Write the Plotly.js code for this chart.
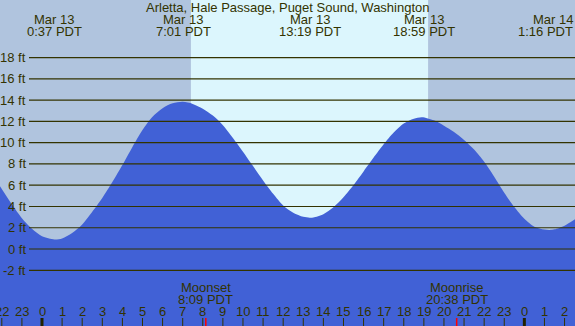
<!DOCTYPE html>
<html><head><meta charset="utf-8">
<script src="https://cdn.plot.ly/plotly-3.0.1.min.js"></script>
<style>html,body{margin:0;padding:0;background:#b0c4de;}#chart{width:575px;height:326px;}</style>
</head><body><div id="chart"></div>
<script>
// ---- data ----
const titleText = "Arletta, Hale Passage, Puget Sound, Washington";
const tideHours = [-2.09, -1.5, -1, -0.5, 0, 0.62, 1, 1.5, 2, 2.5, 3, 3.5, 4, 4.5, 5, 5.5, 6, 6.5, 7.0,
  7.5, 8, 8.5, 9, 9.5, 10, 10.5, 11, 11.5, 12, 12.5, 13, 13.32,
  13.5, 14, 14.5, 15, 15.5, 16, 16.5, 17, 17.5, 18, 18.5, 18.9,
  19.5, 20, 20.5, 21, 21.5, 22, 22.5, 23, 23.5, 24, 24.5, 25, 25.27, 25.5, 26, 26.52];
const tideFeet = [5.9, 4.2, 2.9, 1.9, 1.2, 0.9, 1.0, 1.5, 2.3, 3.5, 4.8, 6.3, 7.9, 9.6, 11.2, 12.45, 13.25, 13.7, 13.84,
  13.65, 13.2, 12.55, 11.65, 10.45, 9.15, 7.8, 6.45, 5.2, 4.1, 3.42, 3.03, 2.95,
  2.97, 3.28, 3.93, 4.86, 6.02, 7.3, 8.6, 9.85, 10.95, 11.8, 12.25, 12.4,
  12.1, 11.6, 11.0, 10.25, 9.35, 8.2, 6.8, 5.3, 3.95, 2.85, 2.1, 1.83, 1.8, 1.85, 2.2, 2.8];
const eventHours = [0.617, 7.017, 13.317, 18.983, 25.267];
const eventDates = ["Mar 13", "Mar 13", "Mar 13", "Mar 13", "Mar 14"];
const eventTimes = ["0:37 PDT", "7:01 PDT", "13:19 PDT", "18:59 PDT", "1:16 PDT"];
const moonHours = [8.15, 20.633];
const moonNames = ["Moonset", "Moonrise"];
const moonTimes = ["8:09 PDT", "20:38 PDT"];
const sunriseHour = 7.41;
const sunsetHour = 19.22;
const gridFeet = [18, 16, 14, 12, 10, 8, 6, 4, 2, 0, -2];
const gridLabels = ["18 ft", "16 ft", "14 ft", "12 ft", "10 ft", "8 ft", "6 ft", "4 ft", "2 ft", "0 ft", "-2 ft"];
const hourTicks = [-2, -1, 0, 1, 2, 3, 4, 5, 6, 7, 8, 9, 10, 11, 12, 13, 14, 15, 16, 17, 18, 19, 20, 21, 22, 23, 24, 25, 26];
const hourLabels = ["22", "23", "0", "1", "2", "3", "4", "5", "6", "7", "8", "9", "10", "11", "12", "13", "14", "15", "16", "17", "18", "19", "20", "21", "22", "23", "0", "1", "2"];
const midnightHours = [0, 24];

// ---- styling ----
const X0 = -2.09, X1 = 26.52, Y0 = -7.24, Y1 = 23.42;
const W = 575, H = 326;
const NIGHT = "#b0c4de", DAY = "#dcf6fd", WATER = "#4161d6", INK = "#333300";
const FONT = "Liberation Sans, Arial, sans-serif";
const pyPaper = px => 1 - px / H;

const traces = [
  {x: [X0 - 1, X1 + 1], y: [Y0 - 5, Y0 - 5], mode: "lines", line: {width: 0}, hoverinfo: "skip", showlegend: false},
  {x: tideHours, y: tideFeet, mode: "lines", line: {width: 0, shape: "spline", smoothing: 0.8, color: WATER},
   fill: "tonexty", fillcolor: WATER, hoverinfo: "skip", showlegend: false}
];

const shapes = [
  {type: "rect", layer: "below", xref: "x", yref: "paper", x0: X0 - 1, x1: sunriseHour, y0: 0, y1: 1, fillcolor: NIGHT, line: {width: 0}},
  {type: "rect", layer: "below", xref: "x", yref: "paper", x0: sunriseHour, x1: sunsetHour, y0: 0, y1: 1, fillcolor: DAY, line: {width: 0}},
  {type: "rect", layer: "below", xref: "x", yref: "paper", x0: sunsetHour, x1: X1 + 1, y0: 0, y1: 1, fillcolor: NIGHT, line: {width: 0}}
];
gridFeet.forEach(v => shapes.push({type: "line", layer: "above", xref: "paper", yref: "y", x0: 29 / W, x1: 1, y0: v, y1: v, line: {color: INK, width: 1.2}}));
hourTicks.forEach(h => {
  const mid = midnightHours.indexOf(h) >= 0;
  shapes.push({type: "line", layer: "above", xref: "x", yref: "paper", x0: h, x1: h, y0: 0, y1: pyPaper(318),
    line: {color: mid ? "#222200" : INK, width: mid ? 3 : 1}});
});
moonHours.forEach(h => shapes.push({type: "line", layer: "above", xref: "x", yref: "paper", x0: h, x1: h, y0: 0, y1: pyPaper(318), line: {color: "#ff0000", width: 1.5}}));

const font = {family: FONT, size: 13, color: INK};
const annotations = [
  {text: titleText, xref: "paper", yref: "paper", x: 287.5 / W, y: pyPaper(7.5), xanchor: "center", yanchor: "middle", showarrow: false, font: font}
];
eventHours.forEach((h, i) => {
  const nearRight = h > X1 - 1.5;
  const common = nearRight ? {xref: "paper", x: 1, xanchor: "right"} : {xref: "x", x: h, xanchor: "center"};
  annotations.push(Object.assign({text: eventDates[i], yref: "paper", y: pyPaper(19.5), yanchor: "middle", showarrow: false, font: font}, common));
  annotations.push(Object.assign({text: eventTimes[i], yref: "paper", y: pyPaper(31.5), yanchor: "middle", showarrow: false, font: font}, common));
});
moonHours.forEach((h, i) => {
  annotations.push({text: moonNames[i], xref: "x", x: h, xanchor: "center", yref: "paper", y: pyPaper(287.5), yanchor: "middle", showarrow: false, font: font});
  annotations.push({text: moonTimes[i], xref: "x", x: h, xanchor: "center", yref: "paper", y: pyPaper(299.5), yanchor: "middle", showarrow: false, font: font});
});
gridFeet.forEach((v, i) => annotations.push({text: gridLabels[i], xref: "paper", x: 27.5 / W, xanchor: "right", yref: "y", y: v, yanchor: "middle", showarrow: false, font: font}));
hourTicks.forEach((h, i) => annotations.push({text: hourLabels[i], xref: "x", x: h, xanchor: "center", yref: "paper", y: pyPaper(311.5), yanchor: "middle", showarrow: false, font: font}));

const layout = {
  width: W, height: H, margin: {l: 0, r: 0, t: 0, b: 0, pad: 0},
  paper_bgcolor: NIGHT, plot_bgcolor: "rgba(0,0,0,0)",
  xaxis: {range: [X0, X1], visible: false, fixedrange: true},
  yaxis: {range: [Y0, Y1], visible: false, fixedrange: true},
  shapes: shapes, annotations: annotations, showlegend: false
};
Plotly.newPlot("chart", traces, layout, {staticPlot: true, displayModeBar: false});
</script></body></html>
